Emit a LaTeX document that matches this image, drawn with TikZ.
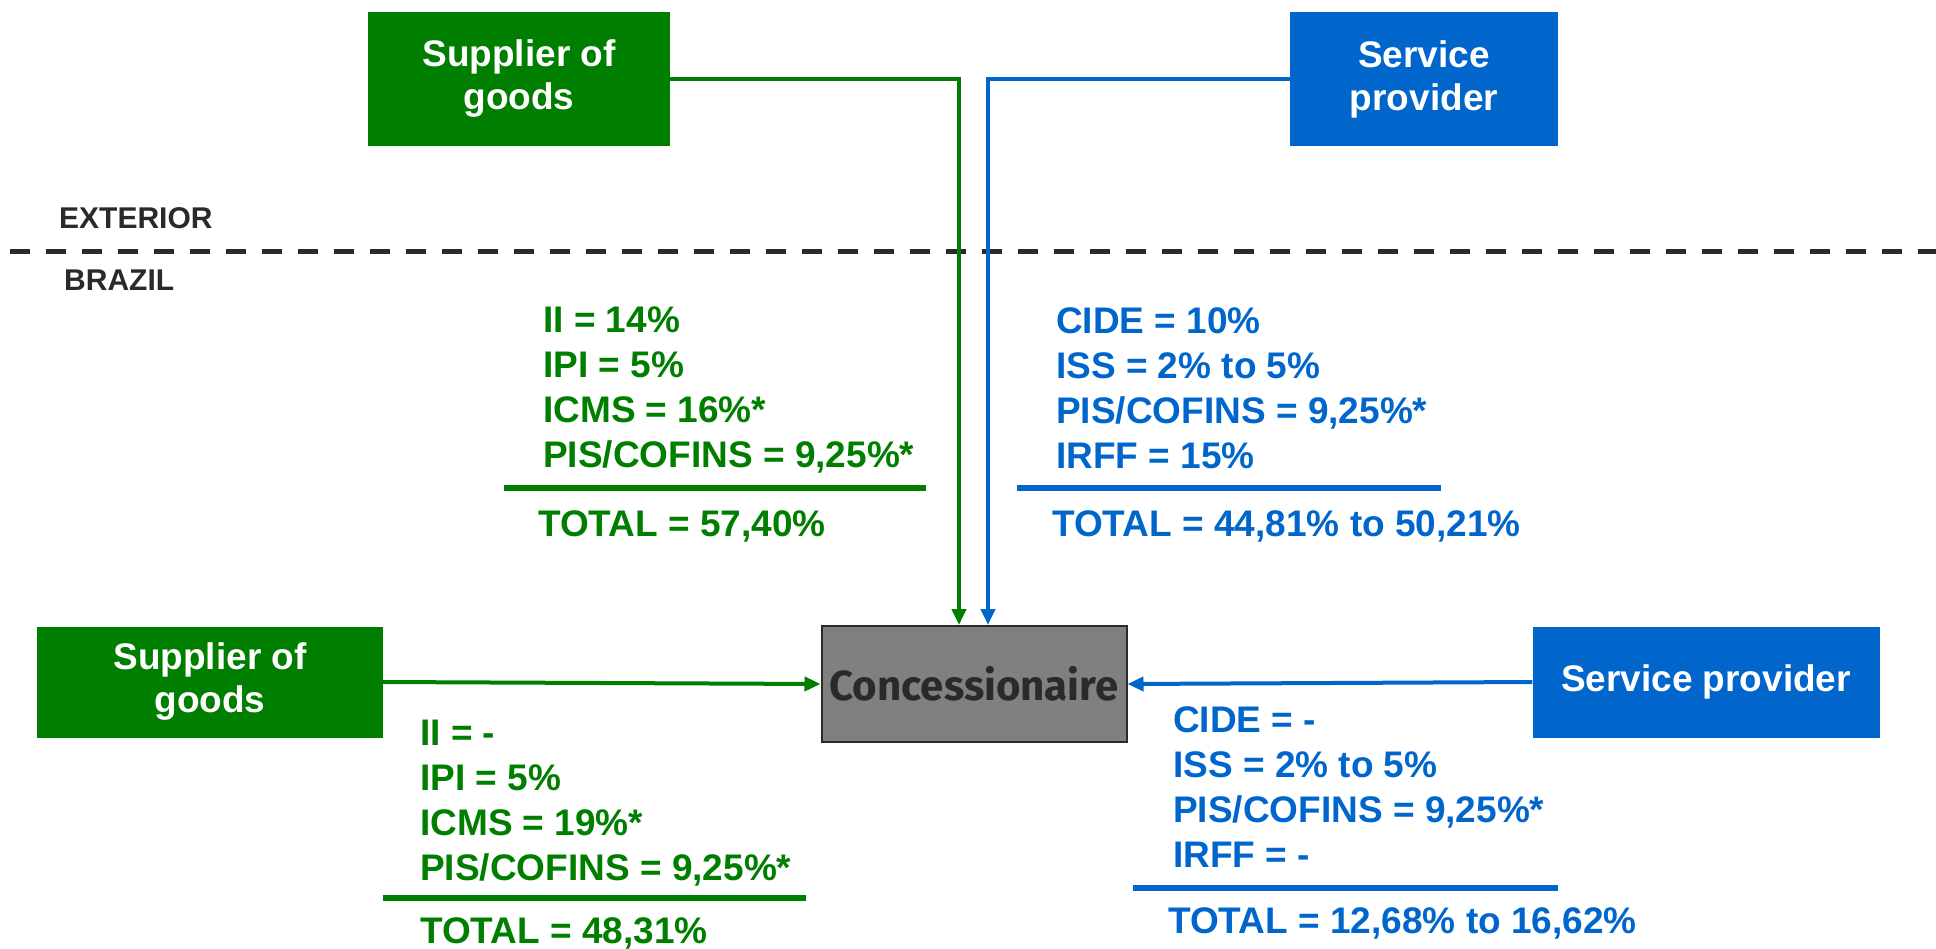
\documentclass[tikz,border=0pt]{standalone}
\usepackage{fontspec}
\setmainfont{Liberation Sans}
\newfontfamily\concfont{Fira Sans}
\usetikzlibrary{positioning}
\usetikzlibrary{calc}
\usetikzlibrary{arrows.meta}

\definecolor{goodsgreen}{HTML}{007E00}
\definecolor{serviceblue}{HTML}{0066CC}
\definecolor{darktext}{HTML}{2A2A2A}

\begin{document}
\begin{tikzpicture}[x=1pt, y=-1pt,
        every node/.style={font=\bfseries},
        supplier/.style={rectangle, fill=#1, text=white, align=center,
                         font=\bfseries\fontsize{37}{43}\selectfont, inner sep=0pt},
        taxes/.style={text=#1, align=left, anchor=north west, inner sep=0pt,
                      font=\bfseries\fontsize{37}{45}\selectfont},
        total/.style={text=#1, anchor=north west, inner sep=0pt,
                      font=\bfseries\fontsize{37}{45}\selectfont},
        rule/.style={draw=#1, line width=6pt},
        flow/.style={draw=#1, line width=4pt, -{Triangle[length=16pt, width=14pt]}},
        region/.style={text=darktext, anchor=west, inner sep=0pt,
                       font=\bfseries\fontsize{30}{34}\selectfont}]
    \useasboundingbox (0,0) rectangle (1936,948);

    % boxes
    \node[supplier=goodsgreen, minimum width=302pt, minimum height=134pt] (goodsExt) at (519,79) {Supplier of\\goods};
    \node[supplier=serviceblue, minimum width=268pt, minimum height=134pt] (serviceExt) at (1424,79) {Service\\provider};
    \node[supplier=goodsgreen, minimum width=346pt, minimum height=111pt] (goodsBr) at (210,682) {Supplier of\\goods};
    \node[supplier=serviceblue, minimum width=347pt, minimum height=111pt] (serviceBr) at (1706,682) {Service provider};
    \node[rectangle, draw=darktext, line width=2pt, fill=gray, text=darktext,
          minimum width=305pt, minimum height=116pt, inner sep=0pt,
          font=\concfont\bfseries\fontsize{42}{48}\selectfont] (conc) at (974,684) {Concessionaire};

    % border
    \node[region] (exterior) at (59,218) {EXTERIOR};
    \node[region] (brazil) at (64,280) {BRAZIL};
    \coordinate (borderL) at (10,251);
    \coordinate (borderR) at (1936,251);
    \draw[darktext, line width=5pt, dash pattern=on 20pt off 16pt] (borderL) -- (borderR);

    % flows
    \draw[flow=goodsgreen] (goodsExt.east) -| ([xshift=-15pt]conc.north);
    \draw[flow=serviceblue] (serviceExt.west) -| ([xshift=14pt]conc.north);
    \draw[flow=goodsgreen] (goodsBr.east) -- (conc.west);
    \draw[flow=serviceblue] (serviceBr.west) -- (conc.east);

    % taxes, exterior
    \node[taxes=goodsgreen] (taxGoodsExt) at (543,307) {II = 14\%\\IPI = 5\%\\ICMS = 16\%*\\PIS/COFINS = 9,25\%*};
    \coordinate (ruleGoodsExtL) at (504,488);
    \coordinate (ruleGoodsExtR) at (926,488);
    \draw[rule=goodsgreen] (ruleGoodsExtL) -- (ruleGoodsExtR);
    \node[total=goodsgreen] (totGoodsExt) at (538,510) {TOTAL = 57,40\%};

    \node[taxes=serviceblue] (taxServiceExt) at (1056,307) {CIDE = 10\%\\ISS = 2\% to 5\%\\PIS/COFINS = 9,25\%*\\IRFF = 15\%};
    \coordinate (ruleServiceExtL) at (1017,488);
    \coordinate (ruleServiceExtR) at (1441,488);
    \draw[rule=serviceblue] (ruleServiceExtL) -- (ruleServiceExtR);
    \node[total=serviceblue] (totServiceExt) at (1052,510) {TOTAL = 44,81\% to 50,21\%};

    % taxes, brazil
    \node[taxes=goodsgreen] (taxGoodsBr) at (420,720) {II = -\\IPI = 5\%\\ICMS = 19\%*\\PIS/COFINS = 9,25\%*};
    \coordinate (ruleGoodsBrL) at (383,898);
    \coordinate (ruleGoodsBrR) at (806,898);
    \draw[rule=goodsgreen] (ruleGoodsBrL) -- (ruleGoodsBrR);
    \node[total=goodsgreen] (totGoodsBr) at (420,917) {TOTAL = 48,31\%};

    \node[taxes=serviceblue] (taxServiceBr) at (1173,706) {CIDE = -\\ISS = 2\% to 5\%\\PIS/COFINS = 9,25\%*\\IRFF = -};
    \coordinate (ruleServiceBrL) at (1133,888);
    \coordinate (ruleServiceBrR) at (1558,888);
    \draw[rule=serviceblue] (ruleServiceBrL) -- (ruleServiceBrR);
    \node[total=serviceblue] (totServiceBr) at (1168,907) {TOTAL = 12,68\% to 16,62\%};
\end{tikzpicture}
\end{document}
